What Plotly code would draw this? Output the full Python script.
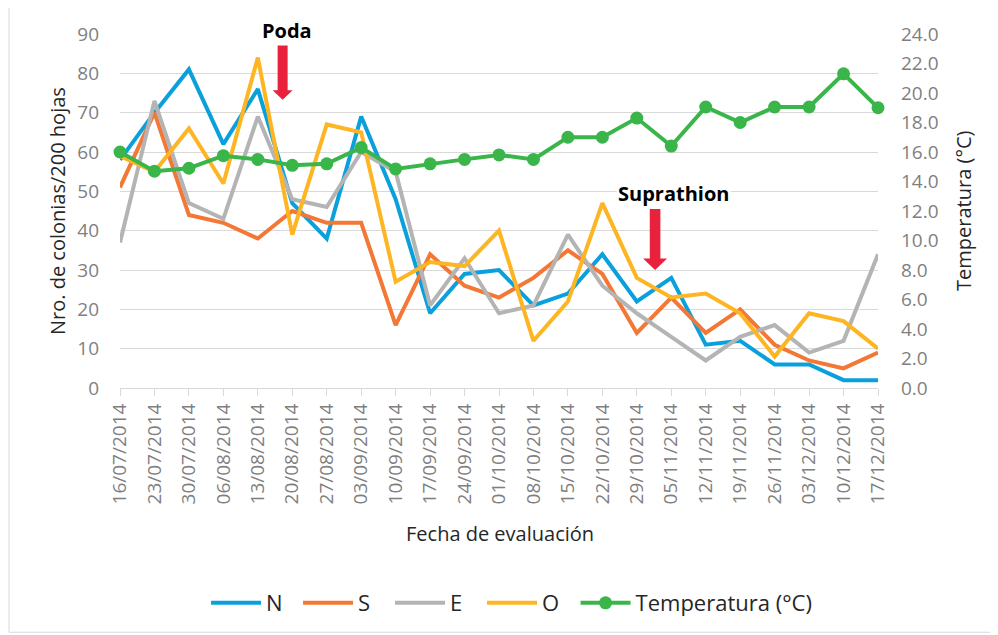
import plotly.graph_objects as go

# Fechas de evaluación (eje X)
fechas = ['16/07/2014', '23/07/2014', '30/07/2014', '06/08/2014', '13/08/2014',
          '20/08/2014', '27/08/2014', '03/09/2014', '10/09/2014', '17/09/2014',
          '24/09/2014', '01/10/2014', '08/10/2014', '15/10/2014', '22/10/2014',
          '29/10/2014', '05/11/2014', '12/11/2014', '19/11/2014', '26/11/2014',
          '03/12/2014', '10/12/2014', '17/12/2014']

# Nro. de colonias / 200 hojas por orientación
N = [58, 70, 81, 62, 76, 47, 38, 69, 48, 19, 29, 30, 21, 24, 34, 22, 28, 11, 12, 6, 6, 2, 2]
S = [51, 70, 44, 42, 38, 45, 42, 42, 16, 34, 26, 23, 28, 35, 29, 14, 23, 14, 20, 11, 7, 5, 9]
E = [37, 73, 47, 43, 69, 48, 46, 60, 55, 21, 33, 19, 21, 39, 26, 19, 13, 7, 13, 16, 9, 12, 34]
O = [59, 55, 66, 52, 84, 39, 67, 65, 27, 32, 31, 40, 12, 22, 47, 28, 23, 24, 19, 8, 19, 17, 10]

# Temperatura (°C), eje derecho
temperatura = [16.0, 14.7, 14.9, 15.75, 15.5, 15.1, 15.2, 16.3, 14.85, 15.2, 15.5, 15.8,
               15.5, 17.0, 17.0, 18.3, 16.4, 19.05, 18.0, 19.05, 19.05, 21.3, 19.0]

series = [('N', N, '#0aa0dc'), ('S', S, '#f37735'), ('E', E, '#b4b4b4'), ('O', O, '#fdb524')]

FONT = 'Open Sans'
GRID = '#d9d9d9'
TICK = '#7f7f7f'
TXT = '#262626'
RED = '#e8223c'

x = list(range(len(fechas)))

fig = go.Figure()
for name, vals, color in series:
    fig.add_trace(go.Scatter(x=x, y=vals, name=name, mode='lines',
                             line=dict(color=color, width=4), cliponaxis=False))

fig.add_trace(go.Scatter(x=x, y=temperatura, name='Temperatura (°C)', yaxis='y2',
                         mode='lines+markers', line=dict(color='#3ab54a', width=4),
                         marker=dict(size=13, color='#3ab54a'), cliponaxis=False,
                         legend='legend2'))

legend_style = dict(orientation='h', y=-0.603, yanchor='middle', xanchor='left',
                    font=dict(family=FONT, size=22, color=TXT), itemwidth=50,
                    bgcolor='rgba(0,0,0,0)')

# la página pone 8px de margen al cuerpo, por eso 990x627
fig.update_layout(
    width=990, height=627,
    margin=dict(l=112, r=120, t=26, b=246),
    paper_bgcolor='white', plot_bgcolor='white',
    font=dict(family=FONT, size=19, color=TXT),
    xaxis=dict(range=[0, len(fechas) - 1], tickvals=x, ticktext=fechas, tickangle=-90,
               ticks='outside', ticklen=7, tickcolor=GRID, showline=True, linecolor=GRID,
               linewidth=1, showgrid=False, zeroline=False,
               tickfont=dict(family=FONT, size=19, color=TICK)),
    yaxis=dict(range=[0, 90], dtick=10, showgrid=True, gridcolor=GRID, gridwidth=1,
               zeroline=False, showline=False, ticklabelstandoff=20,
               tickfont=dict(family=FONT, size=19, color=TICK)),
    yaxis2=dict(range=[0, 24], dtick=2, tickformat='.1f', overlaying='y', side='right',
                showgrid=False, zeroline=False, showline=False, ticklabelstandoff=22,
                tickfont=dict(family=FONT, size=19, color=TICK)),
    legend=dict(x=0.1135, entrywidth=27, entrywidthmode='pixels', **legend_style),
    legend2=dict(x=0.601, **legend_style),
)

# Títulos de ejes
fig.add_annotation(text='Fecha de evaluación', xref='paper', yref='paper', x=0.5013, y=-0.411,
                   xanchor='center', yanchor='middle', showarrow=False,
                   font=dict(size=20, color=TXT))
fig.add_annotation(text='Nro. de colonias/200 hojas', xref='paper', yref='paper',
                   x=-0.0831, y=0.5, xanchor='center', yanchor='middle', textangle=-90,
                   showarrow=False, font=dict(size=20, color=TXT))
fig.add_annotation(text='Temperatura (°C)', xref='paper', yref='paper',
                   x=1.112, y=0.5, xanchor='center', yanchor='middle', textangle=-90,
                   showarrow=False, font=dict(size=20, color=TXT))

# Etiquetas de eventos
fig.add_annotation(text='<b>Poda</b>', xref='paper', yref='paper', x=0.2203, y=1.0085,
                   xanchor='center', yanchor='middle', showarrow=False,
                   font=dict(size=20, color='black'), bgcolor='white')
fig.add_annotation(text='<b>Suprathion</b>', x=16.05, y=49.4, xanchor='center',
                   yanchor='middle', showarrow=False,
                   font=dict(size=20, color='black'), bgcolor='white')


# Flechas rojas (tamaño en pixeles, ancladas en la punta)
def flecha(xa, ya, largo, cabeza, ancho_cabeza, ancho_cuerpo):
    p = (f'M0,0 L{-ancho_cabeza},{cabeza} L{-ancho_cuerpo},{cabeza} L{-ancho_cuerpo},{largo} '
         f'L{ancho_cuerpo},{largo} L{ancho_cuerpo},{cabeza} L{ancho_cabeza},{cabeza} Z')
    fig.add_shape(type='path', xref='x', yref='y', xsizemode='pixel', ysizemode='pixel',
                  xanchor=xa, yanchor=ya, path=p, fillcolor=RED, line=dict(width=0))


flecha(4.72, 73.3, 58, 9.5, 10, 5)
flecha(15.53, 30.0, 61, 11.5, 12, 5.3)

# Borde del gráfico
fig.add_shape(type='rect', xref='paper', yref='paper', x0=-0.1464, x1=1.157, y0=-0.69, y1=1.076,
              line=dict(color=GRID, width=1), fillcolor='rgba(0,0,0,0)', layer='below')

fig.write_html('out.html')
